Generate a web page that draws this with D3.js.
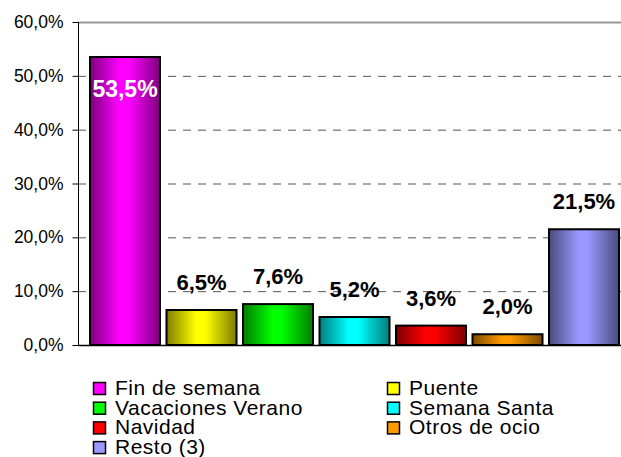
<!DOCTYPE html>
<html>
<head>
<meta charset="utf-8">
<script src="https://cdn.jsdelivr.net/npm/d3@7"></script>
<style>
  body { margin: 0; background: #fff; }
  svg { display: block; font-family: "Liberation Sans", Arial, sans-serif; }
</style>
</head>
<body>
<div id="chart"></div>
<script>
// data
var categories = ["Fin de semana", "Puente", "Vacaciones Verano", "Semana Santa", "Navidad", "Otros de ocio", "Resto (3)"];
var values = [53.5, 6.5, 7.6, 5.2, 3.6, 2.0, 21.5];
var colors = ["#ff00ff", "#ffff00", "#00ff00", "#00ffff", "#ff0000", "#ff9900", "#9999ff"];
var yTicks = [0, 10, 20, 30, 40, 50, 60];

var fmt = function (v) { return v.toFixed(1).replace(".", ",") + "%"; };

var svg = d3.select("#chart")
    .append("svg")
    .attr("width", 621)
    .attr("height", 457);

var margin = { top: 22, left: 78, bottom: 345 };

var x = d3.scaleBand()
    .domain(categories)
    .range([margin.left, 631])
    .paddingInner(0.085)
    .paddingOuter(0.157);

var y = d3.scaleLinear()
    .domain([0, 60])
    .range([margin.bottom, margin.top]);

// gradients, dark edges and bright middle
var defs = svg.append("defs");
colors.forEach(function (c, i) {
    var dark = d3.rgb(c).darker(2);
    var g = defs.append("linearGradient")
        .attr("id", "grad" + i)
        .attr("x1", "0%").attr("x2", "100%")
        .attr("y1", "0%").attr("y2", "0%");
    g.append("stop").attr("offset", "0%").attr("stop-color", dark);
    g.append("stop").attr("offset", "42%").attr("stop-color", c);
    g.append("stop").attr("offset", "55%").attr("stop-color", c);
    g.append("stop").attr("offset", "100%").attr("stop-color", dark);
});

// grid lines
svg.append("g")
    .selectAll("line")
    .data(yTicks.filter(function (t) { return t > 0; }))
    .enter().append("line")
    .attr("x1", margin.left)
    .attr("x2", 621)
    .attr("y1", function (d) { return y(d) + 0.5; })
    .attr("y2", function (d) { return y(d) + 0.5; })
    .style("stroke", function (d) { return d === 60 ? "#999" : "#555"; })
    .style("stroke-width", function (d) { return d === 60 ? 2 : 1; })
    .style("stroke-dasharray", function (d) { return d === 60 ? null : "8,7"; });

// y axis
var yAxis = d3.axisLeft(y)
    .tickValues(yTicks)
    .tickSize(6)
    .tickPadding(9)
    .tickFormat(fmt);

svg.append("g")
    .attr("transform", "translate(" + (margin.left + 0.5) + ",0)")
    .call(yAxis)
    .call(function (g) {
        g.select(".domain").attr("d", "M0," + margin.top + "V" + margin.bottom);
        g.selectAll("text")
            .style("font-size", "17.5px")
            .style("font-family", "Liberation Sans, Arial, sans-serif")
            .attr("fill", "#000");
    });

// bars
svg.append("g")
    .selectAll("rect")
    .data(values)
    .enter().append("rect")
    .attr("x", function (d, i) { return x(categories[i]); })
    .attr("y", function (d) { return y(d); })
    .attr("width", x.bandwidth())
    .attr("height", function (d) { return y(0) - y(d); })
    .style("fill", function (d, i) { return "url(#grad" + i + ")"; })
    .style("stroke", "#000")
    .style("stroke-width", 2);

// x axis line
svg.append("line")
    .attr("x1", margin.left)
    .attr("x2", 621)
    .attr("y1", y(0) + 0.5)
    .attr("y2", y(0) + 0.5)
    .style("stroke", "#000")
    .style("stroke-width", 1.5);

// value labels
svg.append("g")
    .selectAll("text")
    .data(values)
    .enter().append("text")
    .attr("x", function (d, i) { return x(categories[i]) + x.bandwidth() / 2; })
    .attr("y", function (d) { return d > 40 ? y(d) + 40 : y(d) - 20; })
    .attr("text-anchor", "middle")
    .style("font-size", function (d) { return d > 40 ? "23px" : "22px"; })
    .style("font-weight", "bold")
    .style("fill", function (d) { return d > 40 ? "#fff" : "#000"; })
    .text(fmt);

// legend, two columns
var legend = svg.append("g")
    .selectAll("g")
    .data(categories)
    .enter().append("g")
    .attr("transform", function (d, i) {
        return "translate(" + (i % 2 === 0 ? 93 : 387) + "," + (395 + Math.floor(i / 2) * 19.7) + ")";
    });

legend.append("rect")
    .attr("x", 0.5)
    .attr("y", -12.5)
    .attr("width", 12)
    .attr("height", 12)
    .style("fill", function (d, i) { return colors[i]; })
    .style("stroke", "#000")
    .style("stroke-width", 1.5);

legend.append("text")
    .attr("x", 22)
    .attr("y", 0)
    .style("font-size", "21px")
    .style("letter-spacing", "0.5px")
    .style("fill", "#000")
    .text(function (d) { return d; });
</script>
</body>
</html>
